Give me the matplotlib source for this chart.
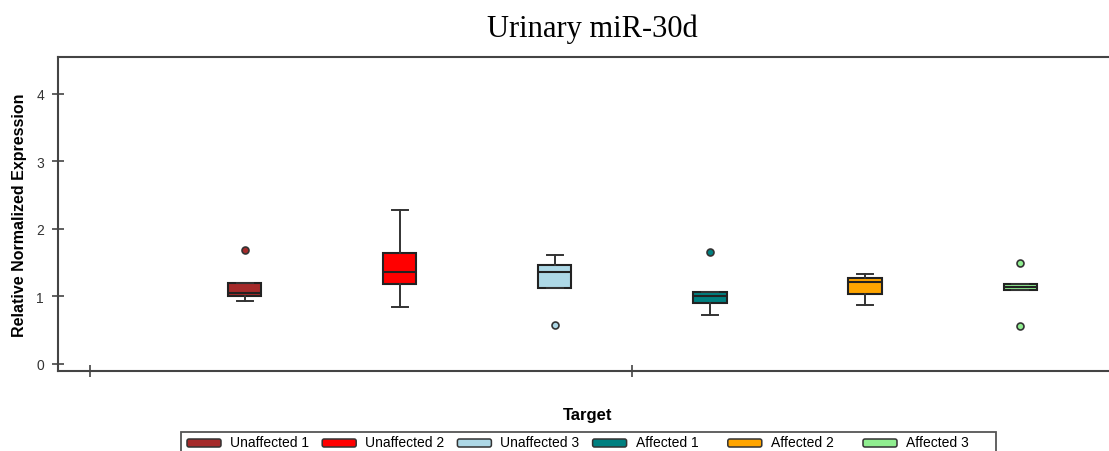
import matplotlib
matplotlib.use("Agg")
import matplotlib.pyplot as plt
from matplotlib.patches import FancyBboxPatch, Rectangle

# ---- data ----
categories = ["Unaffected 1", "Unaffected 2", "Unaffected 3", "Affected 1", "Affected 2", "Affected 3"]
colors = ["#A52A2A", "#FF0000", "#ADD8E6", "#008080", "#FFA500", "#90EE90"]
q1 = [1.00, 1.185, 1.125, 0.91, 1.04, 1.10]
median = [1.05, 1.37, 1.37, 1.00, 1.22, 1.145]
q3 = [1.20, 1.65, 1.47, 1.06, 1.27, 1.185]
whislo = [0.93, 0.84, 1.125, 0.73, 0.88, 1.10]
whishi = [1.20, 2.28, 1.62, 1.06, 1.34, 1.185]
fliers = [[1.69], [], [0.58], [1.66], [], [1.50, 0.57]]
yticks = [0, 1, 2, 3, 4]

W, H = 1109, 452
fig = plt.figure(figsize=(W / 100, H / 100), dpi=100)
ax = fig.add_axes([58 / W, (H - 372) / H, (W - 58) / W, (372 - 58) / H])

positions = list(range(1, len(categories) + 1))
stats = []
for i in range(len(categories)):
    stats.append(dict(med=median[i], q1=q1[i], q3=q3[i], whislo=whislo[i],
                      whishi=whishi[i], fliers=fliers[i], label=categories[i]))

bp = ax.bxp(stats, positions=positions, widths=0.213, patch_artist=True,
            showfliers=True, manage_ticks=False,
            boxprops=dict(edgecolor="#222222", linewidth=1.5),
            medianprops=dict(color="#222222", linewidth=1.5),
            whiskerprops=dict(color="#333333", linewidth=1.4),
            capprops=dict(color="#333333", linewidth=1.4))
for i, b in enumerate(bp["boxes"]):
    b.set_facecolor(colors[i])
for i, f in enumerate(bp["fliers"]):
    f.set_marker("o")
    f.set_markerfacecolor(colors[i])
    f.set_markeredgecolor("#333333")
    f.set_markersize(5)
    f.set_markeredgewidth(1.2)

ax.set_xlim(-0.206, 6.574)
ax.set_ylim(-0.104, 4.548)
ax.set_yticks(yticks)
ax.set_xticks([0, 3.5])
ax.set_xticklabels([])
for s in ["left", "bottom", "top"]:
    ax.spines[s].set_color("#444444")
    ax.spines[s].set_linewidth(1.5)
ax.spines["right"].set_visible(False)
ax.tick_params(axis="both", direction="inout", length=8, width=1.2, color="#444444")
ax.tick_params(axis="y", labelsize=10, labelcolor="#333333", pad=6)
for lab in ax.get_yticklabels():
    lab.set_family(["Liberation Sans", "DejaVu Sans"])

ax.set_ylabel("Relative Normalized Expression", fontsize=11.5, fontweight="bold",
              family=["Liberation Sans", "DejaVu Sans"], labelpad=7)

fig.text(592 / W, 1 - 37 / H, "Urinary miR-30d", ha="center", va="baseline",
         fontsize=22, family=["Liberation Serif", "DejaVu Serif"])
fig.text(588 / W, 1 - 416 / H, "Target", ha="center", va="center",
         fontsize=12, fontweight="bold",
         family=["Liberation Sans", "DejaVu Sans"])

# ---- legend (manual, evenly spaced) ----
fig.patches.append(Rectangle((181 / W, -0.01), (996 - 181) / W, (H - 433) / H + 0.01,
                             transform=fig.transFigure, facecolor="white",
                             edgecolor="#555555", linewidth=1.3))
for i, name in enumerate(categories):
    x0 = 187 + i * 135.2
    fig.patches.append(FancyBboxPatch((x0 / W, (H - 448) / H), 34 / W, 8 / H,
                                      boxstyle="round,pad=0,rounding_size=0.0018",
                                      transform=fig.transFigure,
                                      facecolor=colors[i], edgecolor="#333333",
                                      linewidth=1.1, mutation_aspect=W / H))
    fig.text((x0 + 43) / W, 1 - 443 / H, name, ha="left", va="center", fontsize=10,
             family=["Liberation Sans", "DejaVu Sans"])

fig.savefig("out.png", dpi=100)
